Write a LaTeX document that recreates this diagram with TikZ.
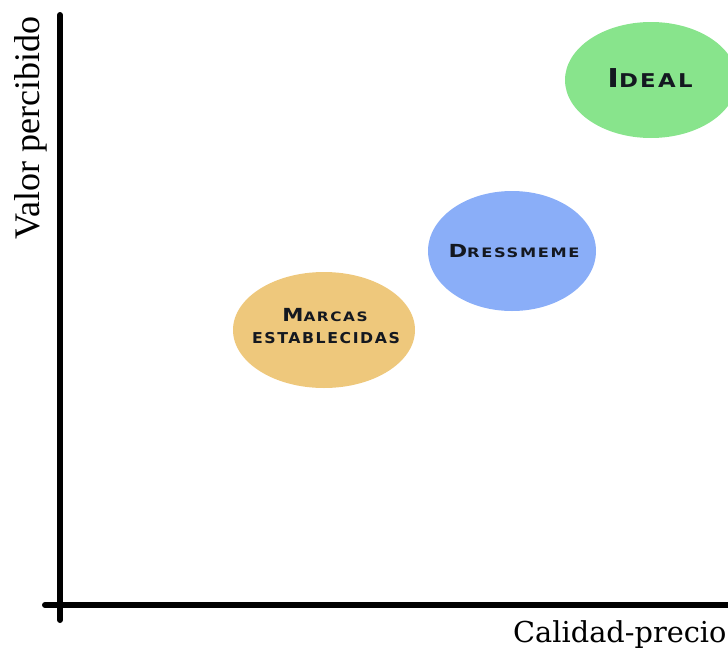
\documentclass[tikz,border=0pt]{standalone}
\usepackage{fontspec}
\setmainfont{Liberation Serif}
\newfontfamily\capsfont[LetterSpace=10]{DejaVu Sans}
\newfontfamily\slabfont{DejaVu Serif}
\definecolor{idealgreen}{HTML}{88E48C}
\definecolor{dressblue}{HTML}{8AAEF8}
\definecolor{marcasorange}{HTML}{EEC87C}
\definecolor{labelink}{HTML}{141820}
\usetikzlibrary{shapes.geometric}
\tikzset{
  axisline/.style={line width=6pt, line cap=round},
  lbl/.style={font=\capsfont\bfseries, text=labelink, align=center, inner sep=0pt}
}
\newcommand{\bigc}[1]{{\fontsize{18}{20}\selectfont #1}}
\newcommand{\smc}[1]{{\fontsize{13}{20}\selectfont #1}}
\begin{document}
\begin{tikzpicture}[x=1pt,y=-1pt]
\useasboundingbox (0,0) rectangle (728,651);
\begin{scope}
\clip (0,0) rectangle (728,651);
\fill[idealgreen] (651,80) ellipse [x radius=86, y radius=58];
\fill[dressblue] (512,251) ellipse [x radius=84, y radius=60];
\fill[marcasorange] (324,330) ellipse [x radius=91, y radius=58];
\coordinate (yTop) at (60,15);
\coordinate (yBot) at (60,620);
\coordinate (xLeft) at (45,605);
\coordinate (xRight) at (740,605);
\draw[axisline] (yTop) -- (yBot);
\draw[axisline] (xLeft) -- (xRight);
\node[lbl, anchor=base, xscale=1.2] (ideal) at (650,87) {{\fontsize{26}{28}\selectfont I}{\fontsize{19}{28}\selectfont DEAL}};
\node[lbl, anchor=base, xscale=1.25] (dress) at (514,257) {\bigc{D}\smc{RESSMEME}};
\node[lbl, anchor=base, xscale=1.18] (marcas) at (325,321) {\bigc{M}\smc{ARCAS}};
\node[lbl, anchor=base, xscale=1.05] (estab) at (326,343) {{\fontsize{15}{18}\selectfont ESTABLECIDAS}};
\node[font=\fontsize{36}{38}\selectfont, rotate=90, anchor=base west, inner sep=0pt] (ylab) at (39,240) {Valor percibido};
\node[font=\slabfont\fontsize{28.8}{32}\selectfont, anchor=base west, inner sep=0pt] (xlab) at (513,642) {Calidad-precio};
\end{scope}
\end{tikzpicture}
\end{document}
